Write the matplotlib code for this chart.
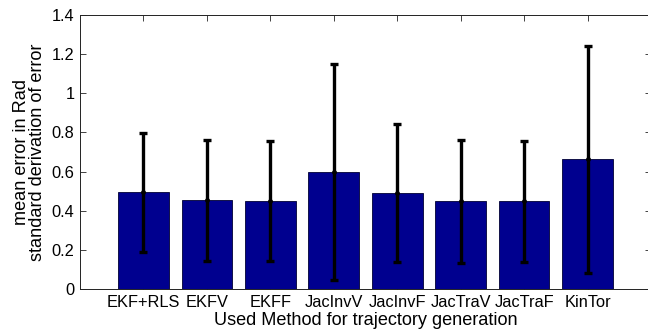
import matplotlib
matplotlib.use("Agg")
import matplotlib.pyplot as plt
from matplotlib.ticker import FuncFormatter
from matplotlib.textpath import TextPath
from matplotlib.font_manager import FontProperties

methods = ["EKF+RLS", "EKFV", "EKFF", "JacInvV", "JacInvF", "JacTraV", "JacTraF", "KinTor"]
mean_err = [0.494, 0.453, 0.448, 0.596, 0.490, 0.448, 0.448, 0.663]
std_err = [0.303, 0.309, 0.307, 0.552, 0.352, 0.313, 0.309, 0.581]
y_ticks = [0, 0.2, 0.4, 0.6, 0.8, 1.0, 1.2, 1.4]

plt.rcParams['font.family'] = ['Liberation Sans', 'DejaVu Sans']

def size_for(text, target_px, dpi=100):
    fp = FontProperties(family='Liberation Sans', size=10)
    w = TextPath((0, 0), text, prop=fp).get_extents().width
    w_px = w * dpi / 72.0
    return 10 * target_px / w_px

FS_TICK = size_for("EKF+RLS", 71)
FS_LAB = size_for("Used Method for trajectory generation", 301)

fig = plt.figure(figsize=(6.48, 3.32), dpi=100)
ax = fig.add_axes([80/648, 43/332, 571/648, 274/332])

x = list(range(1, len(methods) + 1))
ax.bar(x, mean_err, width=0.8, color='#00008F', edgecolor='#000033', linewidth=0.6, zorder=2)
ax.errorbar(x, mean_err, yerr=std_err, fmt='.', color='black', ecolor='black',
            elinewidth=2.4, capsize=2.6, capthick=2.4, markersize=5, zorder=3)

ax.set_xlim(0, 9)
ax.set_ylim(0, 1.4)
ax.set_xticks(x)
ax.set_xticklabels(methods)
ax.set_yticks(y_ticks)
ax.yaxis.set_major_formatter(FuncFormatter(lambda v, p: f"{v:g}"))
ax.tick_params(direction='in', top=True, right=True, length=4, width=0.6,
               labelsize=FS_TICK, pad=4, colors='#222222', labelcolor='black')
for s in ax.spines.values():
    s.set_linewidth(0.7)
    s.set_color('#222222')

ax.set_xlabel("Used Method for trajectory generation", fontsize=FS_LAB, labelpad=1.5)
ax.set_ylabel("mean error in Rad\nstandard derivation of error", fontsize=FS_LAB, labelpad=4,
              linespacing=0.95)

fig.savefig("out.png", dpi=100)
